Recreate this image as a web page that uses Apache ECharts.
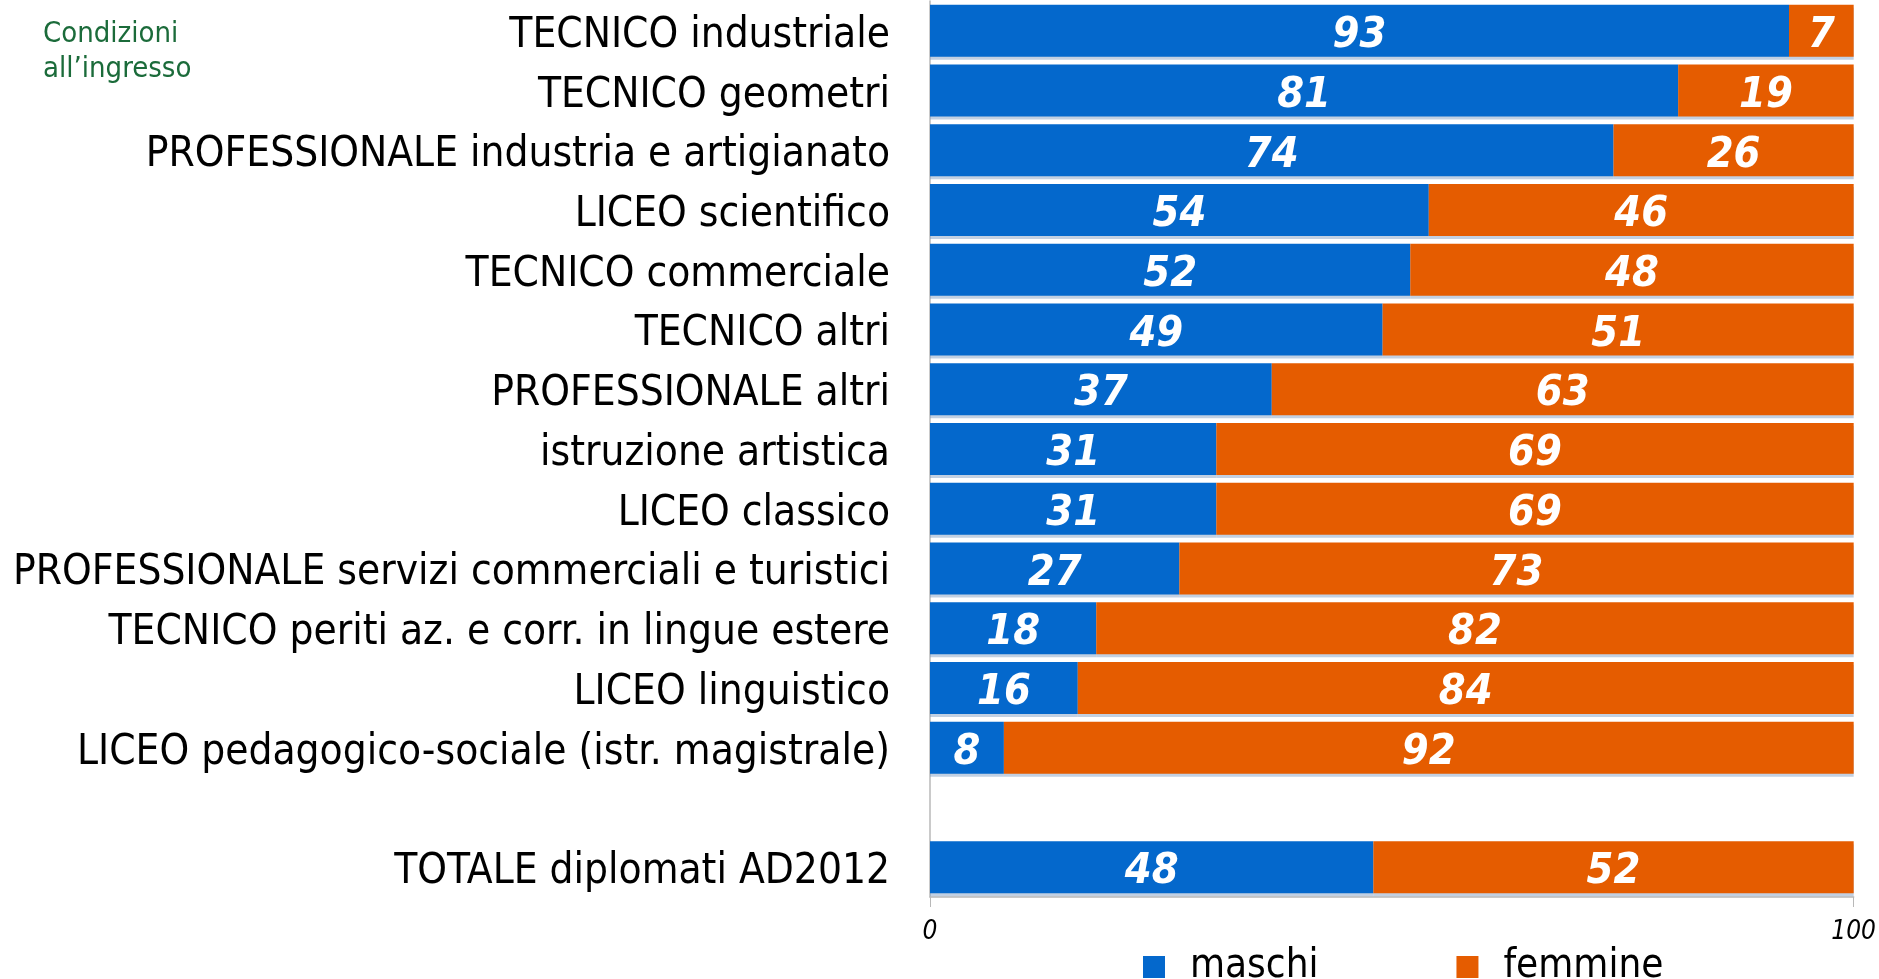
<!DOCTYPE html>
<html>
<head>
<meta charset="utf-8">
<script src="https://cdn.jsdelivr.net/npm/echarts@6/dist/echarts.min.js"></script>
<style>html,body{margin:0;padding:0;background:#fff}#c{width:1879px;height:979px}</style>
</head>
<body>
<div id="c"></div>
<script>
const categories = [
  'TECNICO industriale',
  'TECNICO geometri',
  'PROFESSIONALE industria e artigianato',
  'LICEO scientifico',
  'TECNICO commerciale',
  'TECNICO altri',
  'PROFESSIONALE altri',
  'istruzione artistica',
  'LICEO classico',
  'PROFESSIONALE servizi commerciali e turistici',
  'TECNICO periti az. e corr. in lingue estere',
  'LICEO linguistico',
  'LICEO pedagogico-sociale (istr. magistrale)',
  '',
  'TOTALE diplomati AD2012'
];
const maschi  = [93, 81, 74, 54, 52, 49, 37, 31, 31, 27, 18, 16, 8, null, 48];
const femmine = [7, 19, 26, 46, 48, 51, 63, 69, 69, 73, 82, 84, 92, null, 52];
const seriesNames = ['maschi', 'femmine'];
const axisTicks = [0, 100];
const note = 'Condizioni\nall\u2019ingresso';

const FONT = '"DejaVu Sans Condensed", "DejaVu Sans", sans-serif';
const chart = echarts.init(document.getElementById('c'), null, {renderer: 'canvas'});
const labelCfg = {
  show: true, position: 'inside', color: '#fff', fontFamily: FONT,
  fontSize: 43, fontWeight: 'bold', fontStyle: 'italic', offset: [0, 5],
  formatter: p => (p.value == null ? '' : p.value)
};
chart.setOption({
  animation: false,
  title: {
    text: note, left: 43, top: 17, padding: 0,
    textStyle: {color: '#1b6b3a', fontFamily: FONT, fontSize: 29, fontWeight: 'normal', lineHeight: 35}
  },
  grid: {left: 930, right: 24, top: 1, height: 896, containLabel: false},
  legend: {
    data: seriesNames, left: 1143, top: 945, itemWidth: 22, itemHeight: 22, itemGap: 138,
    icon: 'rect', padding: 0,
    textStyle: {fontFamily: FONT, fontSize: 40, color: '#000', padding: [0, 0, 0, 20], lineHeight: 44}
  },
  xAxis: {
    type: 'value', min: axisTicks[0], max: axisTicks[1], interval: axisTicks[1] - axisTicks[0],
    axisLine: {show: true, lineStyle: {color: '#b8b8b8', width: 1.5}},
    axisTick: {show: true, length: 10, lineStyle: {color: '#b8b8b8'}},
    splitLine: {show: false},
    axisLabel: {margin: 22, color: '#000', fontFamily: FONT, fontSize: 26, fontStyle: 'italic'}
  },
  yAxis: {
    type: 'category', data: categories, inverse: true,
    axisLine: {show: true, lineStyle: {color: '#b8b8b8', width: 1.5}},
    axisTick: {show: false},
    axisLabel: {
      margin: 40, color: '#000', fontFamily: FONT, fontSize: 42,
      formatter: v => '{a|' + v + '}',
      rich: {a: {fontFamily: FONT, fontSize: 42, color: '#000', padding: [10, 0, 0, 0]}}
    }
  },
  series: [
    {name: seriesNames[0], type: 'bar', stack: 'a', data: maschi, barWidth: 52,
     itemStyle: {color: '#0468cc', shadowColor: 'rgba(120,150,190,0.45)', shadowOffsetY: 3, shadowBlur: 0},
     label: labelCfg},
    {name: seriesNames[1], type: 'bar', stack: 'a', data: femmine, barWidth: 52,
     itemStyle: {color: '#e55c00', shadowColor: 'rgba(120,150,190,0.45)', shadowOffsetY: 3, shadowBlur: 0},
     label: labelCfg}
  ]
});
</script>
</body>
</html>
